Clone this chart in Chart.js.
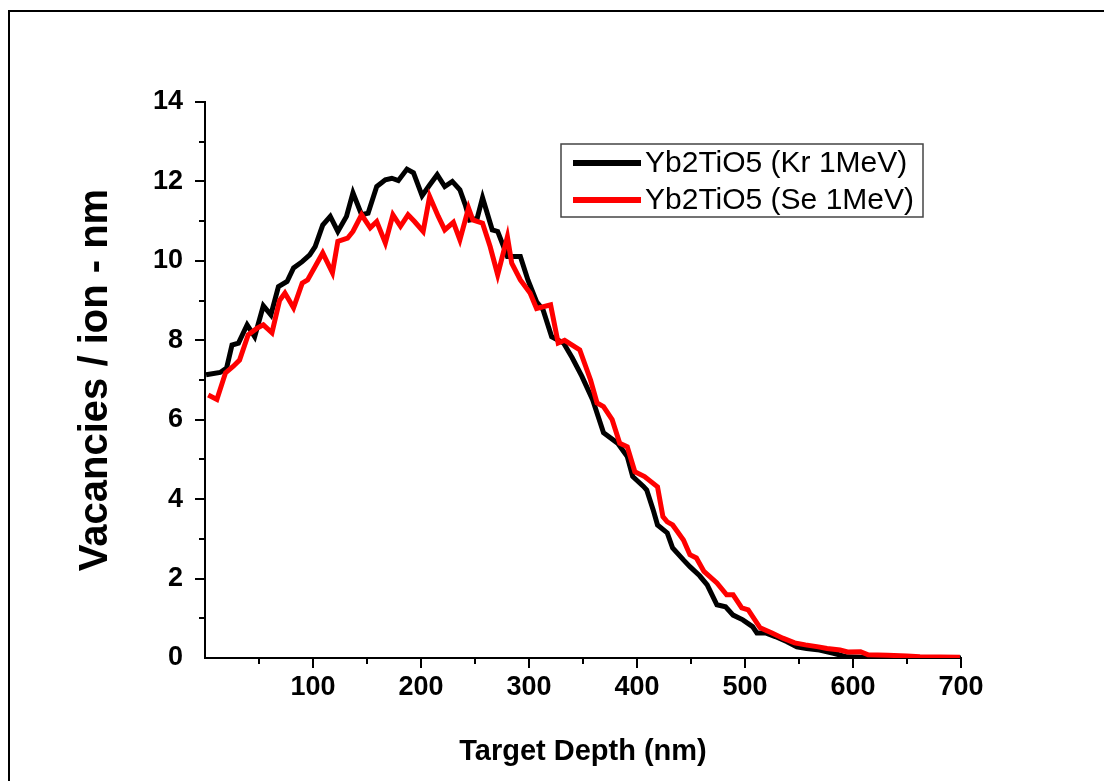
<!DOCTYPE html>
<html>
<head>
<meta charset="utf-8">
<script src="https://cdn.jsdelivr.net/npm/chart.js@4.4.0/dist/chart.umd.min.js"></script>
<style>
  html, body { margin:0; padding:0; background:#fff; }
  #wrap { position:relative; width:1104px; height:781px; overflow:hidden; }
  #frame { position:absolute; left:8px; top:10px; width:1200px; height:900px; border-left:2px solid #000; border-top:2px solid #000; }
  #c { position:absolute; left:0; top:0; }
</style>
</head>
<body>
<div id="wrap">
  <div id="frame"></div>
  <canvas id="c" width="1104" height="781"></canvas>
</div>
<script>
// ── SRIM vacancy profiles, Yb2TiO5 ──
const krDepth = [1,14,20,25,31,39,46,54,61,68,76,82,90,97,102,109,116,123,131,137,145,151,159,167,173,179,187,193,201,208,215,222,229,236,241,245,252,257,266,271,280,292,299,307,313,321,332,340,349,359,369,382,391,396,406,409,415,419,428,433,443,449,458,465,474,482,489,498,507,511,519,528,539,548,557,569,582,594,609,650,700];
const krVac = [7.13,7.19,7.30,7.88,7.93,8.39,8.09,8.87,8.64,9.35,9.48,9.82,9.98,10.15,10.36,10.90,11.12,10.74,11.12,11.71,11.16,11.20,11.87,12.04,12.08,12.02,12.31,12.22,11.64,11.91,12.17,11.87,12.00,11.79,11.41,11.03,11.07,11.59,10.78,10.74,10.11,10.11,9.52,8.97,8.77,8.09,7.93,7.56,7.09,6.50,5.67,5.41,5.07,4.57,4.32,4.23,3.73,3.35,3.15,2.77,2.47,2.30,2.07,1.84,1.34,1.29,1.08,0.96,0.79,0.63,0.63,0.54,0.41,0.28,0.24,0.20,0.12,0.03,0.02,0.01,0.00];

const seDepth = [3,11,19,26,32,40,48,54,62,69,74,82,90,95,109,118,123,132,137,145,153,159,167,174,181,188,194,202,208,216,222,230,236,244,248,257,264,271,280,284,292,301,307,320,327,333,347,357,363,369,377,384,391,398,407,419,424,428,433,443,449,455,462,474,483,489,497,503,514,525,535,546,556,568,576,588,595,607,614,632,650,662,699];
const seVac = [6.62,6.51,7.18,7.34,7.50,8.14,8.30,8.39,8.19,9.00,9.19,8.82,9.44,9.52,10.20,9.70,10.49,10.57,10.74,11.16,10.83,10.99,10.45,11.16,10.87,11.16,10.99,10.74,11.62,11.12,10.78,10.97,10.53,11.33,11.03,10.95,10.36,9.65,10.61,9.94,9.52,9.19,8.80,8.89,7.93,8.00,7.76,7.00,6.42,6.33,6.00,5.41,5.32,4.69,4.57,4.31,3.56,3.43,3.35,2.97,2.60,2.52,2.18,1.89,1.59,1.59,1.26,1.21,0.76,0.63,0.50,0.38,0.33,0.28,0.24,0.20,0.15,0.16,0.08,0.07,0.05,0.03,0.02];

const seriesLabels = ['Yb2TiO5 (Kr 1MeV)', 'Yb2TiO5 (Se 1MeV)'];
const seriesColors = ['#000000', '#ff0000'];
const xMinorTicks = [50,100,150,200,250,300,350,400,450,500,550,600,650,700];
const yMinorTicks = [1,2,3,4,5,6,7,8,9,10,11,12,13,14];

const FONT = "'Liberation Sans', Arial, sans-serif";

// outward major/minor tick marks (Origin style)
const tickMarks = {
  id: 'tickMarks',
  afterDraw(chart) {
    const {ctx, chartArea, scales: {x, y}} = chart;
    ctx.save();
    ctx.strokeStyle = '#000';
    ctx.lineWidth = 2;
    ctx.beginPath();
    yMinorTicks.forEach(v => {
      const py = Math.round(y.getPixelForValue(v));
      const len = v % 2 === 0 ? 10 : 6;
      ctx.moveTo(chartArea.left - len, py);
      ctx.lineTo(chartArea.left, py);
    });
    xMinorTicks.forEach(v => {
      const px = Math.round(x.getPixelForValue(v));
      const len = v % 100 === 0 ? 10 : 6;
      ctx.moveTo(px, chartArea.bottom);
      ctx.lineTo(px, chartArea.bottom + len);
    });
    ctx.stroke();
    ctx.restore();
  }
};

// legend box inside the plot
const insetLegend = {
  id: 'insetLegend',
  afterDraw(chart) {
    const {ctx} = chart;
    const bx = 561, by = 144, bw = 362, bh = 73;
    ctx.save();
    ctx.strokeStyle = '#444';
    ctx.lineWidth = 1.5;
    ctx.strokeRect(bx, by, bw, bh);
    ctx.font = '30px ' + FONT;
    ctx.textBaseline = 'middle';
    chart.data.datasets.forEach((ds, i) => {
      const ly = by + 19 + i * 37;
      ctx.strokeStyle = ds.borderColor;
      ctx.lineWidth = 6;
      ctx.beginPath();
      ctx.moveTo(573, ly);
      ctx.lineTo(641, ly);
      ctx.stroke();
      ctx.fillStyle = '#000';
      ctx.fillText(ds.label, 645, ly + 1);
    });
    ctx.restore();
  }
};

const toPts = (xs, ys) => xs.map((d, i) => ({x: d, y: ys[i]}));

new Chart(document.getElementById('c').getContext('2d'), {
  type: 'line',
  data: {
    datasets: [
      { label: seriesLabels[0], data: toPts(krDepth, krVac), borderColor: seriesColors[0], borderWidth: 5, pointRadius: 0, tension: 0, fill: false, order: 1 },
      { label: seriesLabels[1], data: toPts(seDepth, seVac), borderColor: seriesColors[1], borderWidth: 5, pointRadius: 0, tension: 0, fill: false, order: 0 }
    ]
  },
  options: {
    responsive: false,
    animation: false,
    layout: { padding: { top: 102, right: 143, left: 0, bottom: 0 } },
    plugins: { legend: { display: false }, tooltip: { enabled: false } },
    scales: {
      x: {
        type: 'linear', min: 0, max: 700,
        afterFit: s => { s.height = 123; },
        grid: { drawOnChartArea: false, drawTicks: false },
        border: { color: '#000', width: 2 },
        ticks: { stepSize: 100, padding: 13, color: '#000', font: { family: FONT, size: 27, weight: 'bold' },
                 callback: v => v === 0 ? '' : v },
        title: { display: true, text: 'Target Depth (nm)', color: '#000', font: { family: FONT, size: 29, weight: 'bold' }, padding: { top: 0, bottom: 12 } }
      },
      y: {
        min: 0, max: 14,
        afterFit: s => { s.width = 205; },
        grid: { drawOnChartArea: false, drawTicks: false },
        border: { color: '#000', width: 2 },
        ticks: { stepSize: 2, padding: 22, color: '#000', font: { family: FONT, size: 27, weight: 'bold' } },
        title: { display: true, text: 'Vacancies / ion - nm', color: '#000', font: { family: FONT, size: 40, weight: 'bold' }, padding: { top: 72, bottom: 0 } }
      }
    }
  },
  plugins: [tickMarks, insetLegend]
});
</script>
</body>
</html>
